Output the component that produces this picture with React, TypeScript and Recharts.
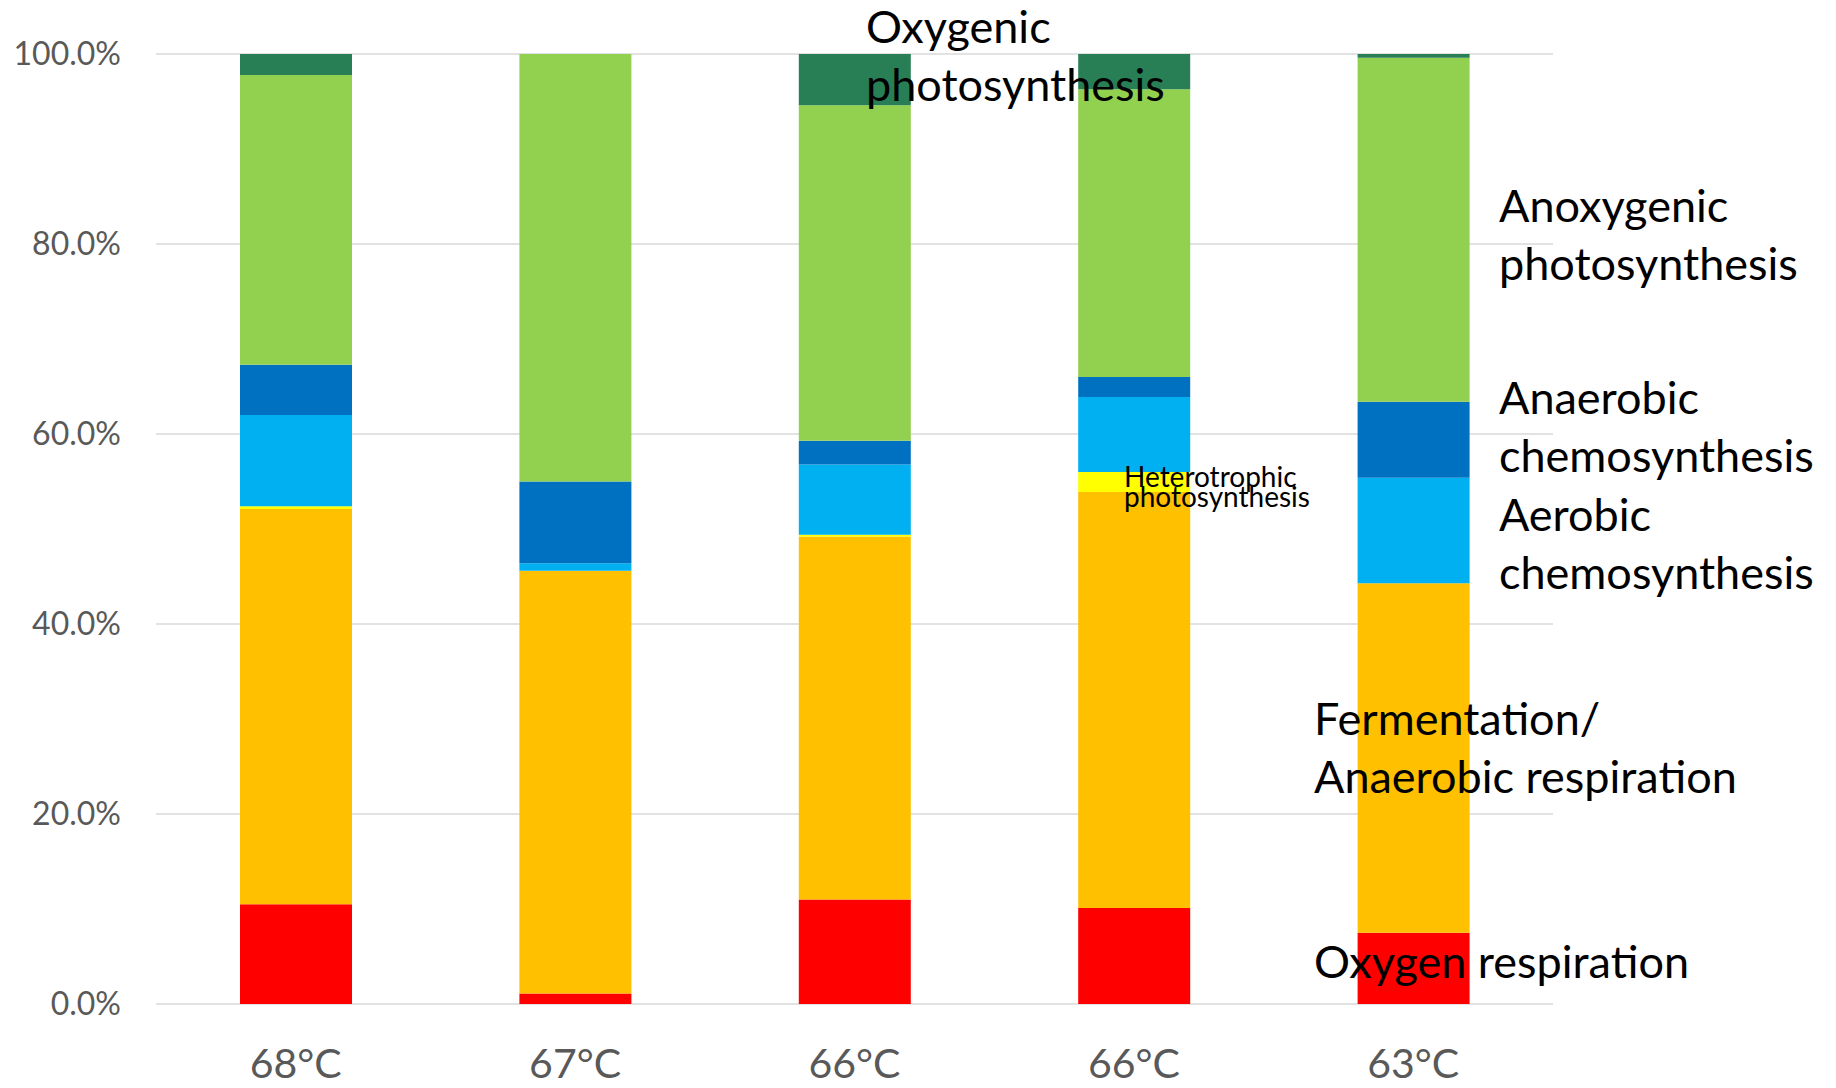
import { BarChart, Bar, XAxis, YAxis, CartesianGrid } from 'recharts'

const categories = ['68°C', '67°C', '66°C', '66°C', '63°C']

// percentages of each metabolic group, bottom to top of the stack
const oxygenRespiration = [10.5, 1.1, 11.0, 10.1, 7.5]
const fermentation = [41.6, 44.5, 38.2, 43.8, 36.8]
const heterotrophicPhoto = [0.3, 0, 0.2, 2.1, 0]
const aerobicChemo = [9.6, 0.8, 7.4, 7.9, 11.1]
const anaerobicChemo = [5.3, 8.6, 2.5, 2.1, 8.0]
const anoxygenicPhoto = [30.5, 45.0, 35.3, 30.3, 36.2]
const oxygenicPhoto = [2.2, 0, 5.4, 3.7, 0.4]

const yTicks = [0, 20, 40, 60, 80, 100]

const series = [
  { key: 'oxygenRespiration', values: oxygenRespiration, color: '#FF0000' },
  { key: 'fermentation', values: fermentation, color: '#FFC000' },
  { key: 'heterotrophicPhoto', values: heterotrophicPhoto, color: '#FFFF00' },
  { key: 'aerobicChemo', values: aerobicChemo, color: '#00B0F0' },
  { key: 'anaerobicChemo', values: anaerobicChemo, color: '#0070C0' },
  { key: 'anoxygenicPhoto', values: anoxygenicPhoto, color: '#92D050' },
  { key: 'oxygenicPhoto', values: oxygenicPhoto, color: '#287E55' },
]

const data = categories.map((c, i) => {
  const row: any = { temp: c }
  series.forEach(s => { row[s.key] = s.values[i] })
  return row
})

const font = 'Lato, "Open Sans", sans-serif'

// text annotations placed next to the stacks
const notes = [
  { lines: ['Oxygenic', 'photosynthesis'], left: 866, top: -3, size: 45, lh: 58 },
  { lines: ['Anoxygenic', 'photosynthesis'], left: 1499, top: 176, size: 45, lh: 58 },
  { lines: ['Anaerobic', 'chemosynthesis'], left: 1499, top: 368, size: 45, lh: 58 },
  { lines: ['Aerobic', 'chemosynthesis'], left: 1499, top: 485, size: 45, lh: 58 },
  { lines: ['Fermentation/', 'Anaerobic respiration'], left: 1314, top: 689, size: 45, lh: 58 },
  { lines: ['Oxygen respiration'], left: 1314, top: 932, size: 45, lh: 58 },
  { lines: ['Heterotrophic', 'photosynthesis'], left: 1124, top: 466, size: 28, lh: 20 },
]

export default function App() {
  return (
    <div style={{ position: 'absolute', left: 0, top: 0, width: 1836, height: 1088, background: '#fff' }}>
      <BarChart
        width={1836}
        height={1088}
        data={data}
        margin={{ top: 54, right: 283, left: 0, bottom: 0 }}
      >
        <CartesianGrid vertical={false} stroke="#D9D9D9" strokeWidth={1.5} />
        <XAxis
          dataKey="temp"
          height={84}
          axisLine={false}
          tickLine={false}
          tickSize={0}
          tickMargin={45}
          tick={{ fontSize: 41, fill: '#595959', fontFamily: font }}
        />
        <YAxis
          width={156}
          domain={[0, 100]}
          ticks={yTicks}
          axisLine={false}
          tickLine={false}
          tickSize={0}
          tickMargin={35}
          tickFormatter={v => `${v.toFixed(1)}%`}
          tick={{ fontSize: 32, fill: '#595959', fontFamily: font }}
        />
        {series.map(s => (
          <Bar key={s.key} dataKey={s.key} stackId="a" fill={s.color} barSize={112} isAnimationActive={false} />
        ))}
      </BarChart>
      {notes.map((n, i) => (
        <div
          key={i}
          style={{
            position: 'absolute',
            left: n.left,
            top: n.top,
            fontFamily: font,
            fontSize: n.size,
            lineHeight: `${n.lh}px`,
            color: '#000',
            whiteSpace: 'nowrap',
            pointerEvents: 'none',
          }}
        >
          {n.lines.map((l, j) => <div key={j}>{l}</div>)}
        </div>
      ))}
    </div>
  )
}
